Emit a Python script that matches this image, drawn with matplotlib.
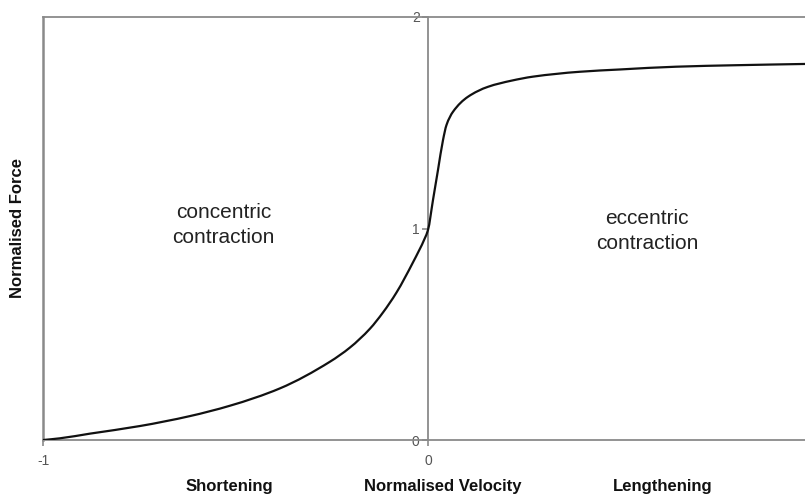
import matplotlib
matplotlib.use("Agg")
import matplotlib.pyplot as plt
from matplotlib.path import Path
from matplotlib.patches import PathPatch

plt.rcParams['font.family'] = ['Liberation Sans', 'DejaVu Sans']

velocity = [-1.0, -0.957, -0.879, -0.749, -0.619, -0.515, -0.385, -0.255, -0.203,
            -0.151, -0.117, -0.082, -0.039, -0.008, 0.0, 0.013, 0.026, 0.039,
            0.048, 0.065, 0.104, 0.156, 0.217, 0.273, 0.394, 0.5, 0.645, 0.8, 0.98]
force = [0.0, 0.008, 0.030, 0.066, 0.113, 0.162, 0.244, 0.370, 0.437,
         0.526, 0.603, 0.697, 0.840, 0.955, 0.993, 1.135, 1.277, 1.418,
         1.489, 1.552, 1.623, 1.670, 1.699, 1.718, 1.741, 1.752, 1.765, 1.772, 1.778]

x_ticks = [-1, 0]
y_ticks = [0, 1, 2]
region_labels = ["concentric\ncontraction", "eccentric\ncontraction"]
bottom_labels = ["Shortening", "Normalised Velocity", "Lengthening"]

W, H = 805, 496
fig = plt.figure(figsize=(W / 100, H / 100), dpi=100)
ax = fig.add_axes([43.3 / W, 1 - 440 / H, 1 - 43.3 / W, (440 - 17) / H])

frame = '#8a8a8a'
ax.set_xlim(-1, 0.98)
ax.set_ylim(0, 2)

# smoothed line: monotone cubic (Fritsch-Carlson) Bezier segments through the points
n = len(velocity)
hs = [velocity[i + 1] - velocity[i] for i in range(n - 1)]
ds = [(force[i + 1] - force[i]) / hs[i] for i in range(n - 1)]
ms = [ds[0]]
for i in range(1, n - 1):
    if ds[i - 1] * ds[i] <= 0:
        ms.append(0.0)
    else:
        w1 = 2 * hs[i] + hs[i - 1]
        w2 = hs[i] + 2 * hs[i - 1]
        ms.append((w1 + w2) / (w1 / ds[i - 1] + w2 / ds[i]))
ms.append(ds[-1])
verts = [(velocity[0], force[0])]
codes = [Path.MOVETO]
for i in range(n - 1):
    h = hs[i]
    verts += [(velocity[i] + h / 3, force[i] + ms[i] * h / 3),
              (velocity[i + 1] - h / 3, force[i + 1] - ms[i + 1] * h / 3),
              (velocity[i + 1], force[i + 1])]
    codes += [Path.CURVE4] * 3
ax.add_patch(PathPatch(Path(verts, codes), facecolor='none', edgecolor='#111111',
                       lw=1.6, capstyle='round', joinstyle='round', zorder=3))

ax.spines['left'].set_position(('data', 0))
ax.spines['right'].set_visible(False)
for s in ['left', 'top', 'bottom']:
    ax.spines[s].set_color(frame)
    ax.spines[s].set_linewidth(1.3)
ax.axvline(-1, color=frame, lw=1.8, clip_on=False)

ax.set_xticks(x_ticks)
ax.set_xticklabels([str(v) for v in x_ticks])
ax.set_yticks(y_ticks)
ax.set_yticklabels([str(v) for v in y_ticks])
ax.tick_params(axis='both', colors=frame, labelcolor='#555555', labelsize=10,
               length=4, width=1.2, direction='out')
ax.tick_params(axis='x', pad=6)
ax.tick_params(axis='y', pad=2)

ax.text(-0.532, 1.017, region_labels[0], ha='center', va='center', fontsize=15,
        color='#222222', linespacing=1.4)
ax.text(0.57, 0.99, region_labels[1], ha='center', va='center', fontsize=15,
        color='#222222', linespacing=1.4)

bx = [229, 443, 663]
for lbl, px in zip(bottom_labels, bx):
    fig.text(px / W, 1 - 486 / H, lbl, ha='center', va='center', fontsize=12,
             fontweight='bold', color='#111111')

fig.text(18 / W, 1 - 228 / H, "Normalised Force", ha='center', va='center',
         rotation=90, fontsize=12, fontweight='bold', color='#111111')

fig.savefig('out.png', dpi=100)
